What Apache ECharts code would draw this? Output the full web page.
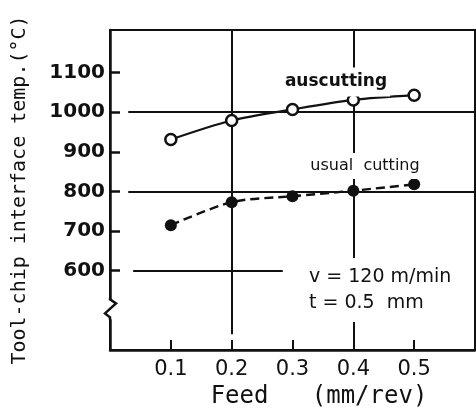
<!DOCTYPE html>
<html>
<head>
<meta charset="utf-8">
<script src="https://cdn.jsdelivr.net/npm/echarts@6/dist/echarts.min.js"></script>
<style>
  html, body { margin: 0; padding: 0; background: #fff; }
  #main { width: 476px; height: 414px; }
</style>
</head>
<body>
<div id="main"></div>
<script>
// feed (mm/rev)
var feeds = [0.1, 0.2, 0.3, 0.4, 0.5];
// tool-chip interface temperature (°C)
var ausTemps = [931, 979, 1007, 1031, 1043];
var usualTemps = [715, 773, 788, 802, 818];
var yTicks = [600, 700, 800, 900, 1000, 1100];
var xTicks = [0.1, 0.2, 0.3, 0.4, 0.5];

var ink = '#111';
var myChart = echarts.init(document.getElementById('main'));

function pairs(ys) {
  return feeds.map(function (f, i) { return [f, ys[i]]; });
}

// grid lines drawn as marklines (data coords)
var guideLines = [
  [{ coord: [0.03, 1000] }, { coord: [0.6, 1000] }],
  [{ coord: [0.03, 800] }, { coord: [0.6, 800] }],
  [{ coord: [0.038, 600] }, { coord: [0.284, 600] }],
  [{ coord: [0.2, 440] }, { coord: [0.2, 1207.5] }],
  [{ coord: [0.4, 400] }, { coord: [0.4, 1207.5] }]
];

myChart.setOption({
  animation: false,
  grid: {
    left: 110, top: 30, right: 1, bottom: 61,
    show: true, borderColor: ink, borderWidth: 2
  },
  xAxis: {
    type: 'value', min: 0, max: 0.6, interval: 0.1,
    name: 'Feed   (mm/rev)', nameLocation: 'middle', nameGap: 35,
    nameTextStyle: { fontFamily: 'DejaVu Sans Mono', fontSize: 24, color: ink, padding: [0, 0, 0, 53] },
    axisLine: { lineStyle: { color: ink, width: 2.5 } },
    axisTick: { inside: true, length: 10, lineStyle: { color: ink, width: 2 }, customValues: xTicks },
    axisLabel: { customValues: xTicks, fontFamily: 'DejaVu Sans', fontSize: 21, color: ink, margin: 9 },
    splitLine: { show: false }
  },
  yAxis: {
    type: 'value', min: 400, max: 1207.5, interval: 100,
    name: 'Tool-chip interface temp.(°C)', nameLocation: 'middle', nameGap: 80,
    nameTextStyle: { fontFamily: 'DejaVu Sans Mono', fontSize: 20, color: ink },
    axisLine: { show: true, lineStyle: { color: ink, width: 2.5 } },
    axisTick: { inside: true, length: 10, lineStyle: { color: ink, width: 2.5 }, customValues: yTicks },
    axisLabel: {
      customValues: yTicks, fontFamily: 'DejaVu Sans', fontSize: 20, fontWeight: 'bold',
      color: ink, margin: 5,
      formatter: function (v) { return String(v); }
    },
    splitLine: { show: false }
  },
  series: [
    {
      name: 'auscutting', type: 'line', smooth: 0.3,
      data: pairs(ausTemps),
      symbol: 'circle', symbolSize: 11,
      lineStyle: { color: ink, width: 2.2 },
      itemStyle: { color: '#fff', borderColor: ink, borderWidth: 2.5 },
      z: 5,
      markLine: {
        silent: true, symbol: 'none', animation: false,
        label: { show: false },
        lineStyle: { color: ink, width: 2, type: 'solid' },
        data: guideLines
      }
    },
    {
      name: 'usual cutting', type: 'line', smooth: 0.3,
      data: pairs(usualTemps),
      symbol: 'circle', symbolSize: 12,
      lineStyle: { color: ink, width: 2.4, type: [9, 5] },
      itemStyle: { color: ink, borderColor: ink, borderWidth: 0 },
      z: 5
    }
  ]
});

// axis break mark and annotations
var p = myChart.convertToPixel({ gridIndex: 0 }, [0, 500]);
myChart.setOption({
  graphic: [
    {
      type: 'rect', z: 100,
      shape: { x: p[0] - 8, y: p[1] - 11, width: 16, height: 20 },
      style: { fill: '#fff' }
    },
    {
      type: 'polyline', z: 101,
      shape: { points: [
        [p[0], p[1] - 12], [p[0], p[1] - 11], [p[0] + 6, p[1] - 7],
        [p[0] - 5, p[1] + 3], [p[0], p[1] + 7], [p[0], p[1] + 10]
      ] },
      style: { stroke: ink, lineWidth: 2.5, fill: null }
    },
    {
      type: 'text', z: 100, x: 336, y: 82,
      style: {
        text: 'auscutting', font: 'bold 17px "DejaVu Sans"', fill: ink,
        align: 'center', verticalAlign: 'middle',
        backgroundColor: '#fff', padding: [9, 3, 3, 3]
      }
    },
    {
      type: 'text', z: 100, x: 365, y: 166,
      style: {
        text: 'usual  cutting', font: '16px "DejaVu Sans"', fill: ink,
        align: 'center', verticalAlign: 'middle',
        backgroundColor: '#fff', padding: [8, 3, 2, 3]
      }
    },
    {
      type: 'text', z: 100, x: 306, y: 290,
      style: {
        text: 'v = 120 m/min\nt = 0.5  mm', font: '19px "DejaVu Sans"', fill: ink,
        lineHeight: 26, align: 'left', verticalAlign: 'middle',
        backgroundColor: '#fff', padding: [6, 3]
      }
    }
  ]
});
</script>
</body>
</html>
